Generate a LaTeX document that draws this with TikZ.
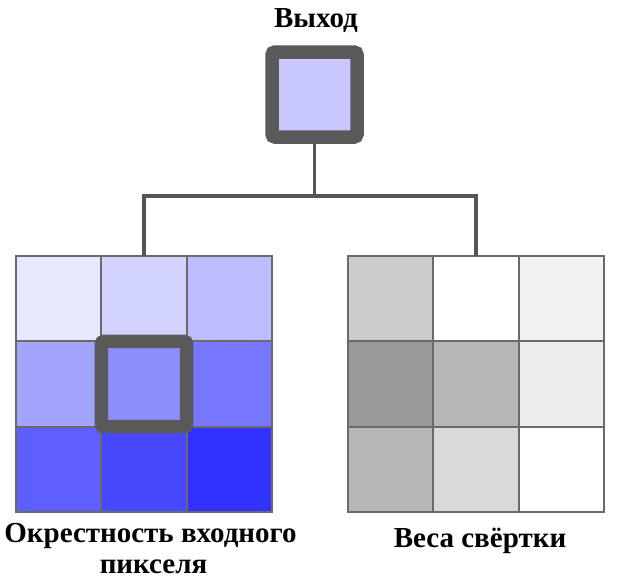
\documentclass[tikz,border=0pt]{standalone}
\usepackage{fontspec}
\setmainfont{Liberation Serif}
\definecolor{gridline}{HTML}{6A6A6A}
\definecolor{darkframe}{HTML}{5A5A5A}
\definecolor{wire}{HTML}{555555}
\definecolor{outfill}{HTML}{C8C8FF}
\definecolor{b11}{HTML}{E8E8FF}\definecolor{b12}{HTML}{D2D2FF}\definecolor{b13}{HTML}{BCBCFF}
\definecolor{b21}{HTML}{A4A4FF}\definecolor{b22}{HTML}{8E8EFF}\definecolor{b23}{HTML}{7777FF}
\definecolor{b31}{HTML}{5F5FFF}\definecolor{b32}{HTML}{4848FF}\definecolor{b33}{HTML}{3232FF}
\definecolor{g11}{HTML}{CCCCCC}\definecolor{g12}{HTML}{FFFFFF}\definecolor{g13}{HTML}{F2F2F2}
\definecolor{g21}{HTML}{999999}\definecolor{g22}{HTML}{B7B7B7}\definecolor{g23}{HTML}{EEEEEE}
\definecolor{g31}{HTML}{B7B7B7}\definecolor{g32}{HTML}{D9D9D9}\definecolor{g33}{HTML}{FFFFFF}
\begin{document}
\begin{tikzpicture}[x=1pt,y=-1pt,
  cell/.style={draw=gridline, line width=2pt, minimum size=85.33pt, inner sep=0pt, outer sep=0pt},
  frame/.style={draw=darkframe, line width=13.5pt, rounded corners=3pt, minimum size=85pt, inner sep=0pt},
  wireline/.style={draw=wire, line width=3.2pt},
  label/.style={font=\fontsize{29}{31}\selectfont\bfseries, inner sep=0pt, align=center}]
\useasboundingbox (0,0) rectangle (617,584);
% left grid
\foreach \r/\y in {1/298.67,2/384,3/469.33}{
  \foreach \c/\x in {1/58.67,2/144,3/229.33}{
    \node[cell, fill=b\r\c] (l\r\c) at (\x,\y) {};
  }
}
% right grid
\foreach \r/\y in {1/298.67,2/384,3/469.33}{
  \foreach \c/\x in {1/390.67,2/476,3/561.33}{
    \node[cell, fill=g\r\c] (r\r\c) at (\x,\y) {};
  }
}
% highlight
\node[frame, minimum size=85.33pt] (hl) at (l22) {};
% output
\node[frame, fill=outfill] (out) at (314.5,94.5) {};
% connectors
\coordinate (j) at (314.5,196);
\draw[wireline] (out.south) -- (j);
\draw[wireline] (l12.north) |- (j) -| (r12.north);
% labels
\node[label, anchor=base] (tout) at (316,27) {Выход};
\node[label, anchor=base] (tl1) at (150.5,542) {Окрестность входного};
\node[label, anchor=base] (tl2) at (153.5,573) {пикселя};
\node[label, anchor=base] (tr) at (480,547) {Веса свёртки};
\end{tikzpicture}
\end{document}
